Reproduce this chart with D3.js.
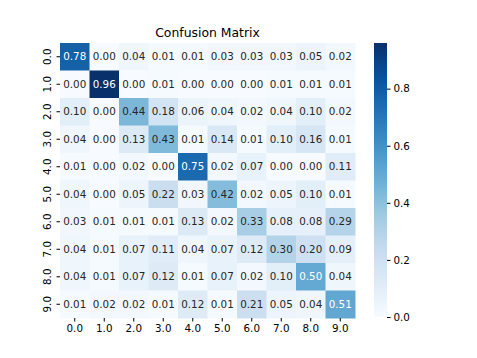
<!DOCTYPE html>
<meta charset="utf-8">
<body>
<script src="https://cdn.jsdelivr.net/npm/d3@7"></script>
<style>
    html, body {
        margin: 0;
        background: #fff;
    }
    text {
        font-family: "DejaVu Sans", sans-serif;
        fill: #000;
    }
</style>
<script>
var labels = ["0.0", "1.0", "2.0", "3.0", "4.0", "5.0", "6.0", "7.0", "8.0", "9.0"];

var matrix = [
    [0.78, 0.00, 0.04, 0.01, 0.01, 0.03, 0.03, 0.03, 0.05, 0.02],
    [0.00, 0.96, 0.00, 0.01, 0.00, 0.00, 0.00, 0.01, 0.01, 0.01],
    [0.10, 0.00, 0.44, 0.18, 0.06, 0.04, 0.02, 0.04, 0.10, 0.02],
    [0.04, 0.00, 0.13, 0.43, 0.01, 0.14, 0.01, 0.10, 0.16, 0.01],
    [0.01, 0.00, 0.02, 0.00, 0.75, 0.02, 0.07, 0.00, 0.00, 0.11],
    [0.04, 0.00, 0.05, 0.22, 0.03, 0.42, 0.02, 0.05, 0.10, 0.01],
    [0.03, 0.01, 0.01, 0.01, 0.13, 0.02, 0.33, 0.08, 0.08, 0.29],
    [0.04, 0.01, 0.07, 0.11, 0.04, 0.07, 0.12, 0.30, 0.20, 0.09],
    [0.04, 0.01, 0.07, 0.12, 0.01, 0.07, 0.02, 0.10, 0.50, 0.04],
    [0.01, 0.02, 0.02, 0.01, 0.12, 0.01, 0.21, 0.05, 0.04, 0.51]
];

var cbarTicks = [0, 0.2, 0.4, 0.6, 0.8];

var width = 477,
    height = 358,
    x0 = 60, x1 = 355, y0 = 43, y1 = 318,
    fs = 10.35;

// matplotlib "Blues" is a linear ramp over these 9 colours
var blues = ["#f7fbff", "#deebf7", "#c6dbef", "#9ecae1", "#6baed6", "#4292c6", "#2171b5", "#08519c", "#08306b"];
var vmax = d3.max(matrix, function(r) { return d3.max(r); });
var ramp = d3.scaleLinear()
    .domain(d3.range(9).map(function(i) { return i / 8; }))
    .range(blues)
    .interpolate(d3.interpolateRgb);
var color = function(v) { return ramp(Math.max(0, Math.min(1, v / vmax))); };

function lum(c) {
    var rgb = d3.rgb(c);
    var f = function(x) { x /= 255; return x <= 0.03928 ? x / 12.92 : Math.pow((x + 0.055) / 1.055, 2.4); };
    return 0.2126 * f(rgb.r) + 0.7152 * f(rgb.g) + 0.0722 * f(rgb.b);
}

var svg = d3.select("body").append("svg")
    .attr("width", width)
    .attr("height", height);

var x = d3.scaleBand().domain(d3.range(10)).range([x0, x1]);
var y = d3.scaleBand().domain(d3.range(10)).range([y0, y1]);

var cells = [];
matrix.forEach(function(row, i) {
    row.forEach(function(v, j) { cells.push({r: i, c: j, v: v}); });
});

svg.append("g").selectAll("rect")
    .data(cells)
    .enter().append("rect")
    .attr("x", function(d) { return x(d.c); })
    .attr("y", function(d) { return y(d.r); })
    .attr("width", x.bandwidth() + 0.5)
    .attr("height", y.bandwidth() + 0.5)
    .attr("fill", function(d) { return color(d.v); });

svg.append("g").selectAll("text")
    .data(cells)
    .enter().append("text")
    .attr("x", function(d) { return x(d.c) + x.bandwidth() / 2; })
    .attr("y", function(d) { return y(d.r) + y.bandwidth() / 2; })
    .attr("text-anchor", "middle")
    .attr("dy", "0.36em")
    .style("font-size", fs + "px")
    .style("fill", function(d) { return lum(color(d.v)) < 0.408 ? "#fff" : "#262626"; })
    .text(function(d) { return d.v.toFixed(2); });

// x axis
var xa = svg.append("g").attr("transform", "translate(0," + y1 + ")")
    .call(d3.axisBottom(x).tickSize(3.5).tickPadding(3).tickFormat(function(i) { return labels[i]; }));
xa.select(".domain").remove();
xa.selectAll("text").style("font-size", fs + "px").attr("fill", "#000");

// y axis
var ya = svg.append("g").attr("transform", "translate(" + x0 + ",0)")
    .call(d3.axisLeft(y).tickSize(3.5).tickPadding(3).tickFormat(function(i) { return labels[i]; }));
ya.select(".domain").remove();
ya.selectAll("text")
    .style("font-size", fs + "px")
    .attr("fill", "#000")
    .attr("text-anchor", "middle")
    .attr("x", 0)
    .attr("dy", 0)
    .attr("transform", "translate(-13,0) rotate(-90)")
    .attr("dominant-baseline", "central");

// title
svg.append("text")
    .attr("x", (x0 + x1) / 2)
    .attr("y", 37)
    .attr("text-anchor", "middle")
    .style("font-size", "12.4px")
    .text("Confusion Matrix");

// colorbar
var cbX = 374, cbW = 13, cbTop = 43, cbBot = 317;
var cy = d3.scaleLinear().domain([0, vmax]).range([cbBot, cbTop]);
var defs = svg.append("defs");
var grad = defs.append("linearGradient")
    .attr("id", "cbar")
    .attr("x1", 0).attr("y1", 1).attr("x2", 0).attr("y2", 0);
grad.selectAll("stop")
    .data(blues)
    .enter().append("stop")
    .attr("offset", function(d, i) { return i / 8; })
    .attr("stop-color", function(d) { return d; });
svg.append("rect")
    .attr("x", cbX).attr("y", cbTop)
    .attr("width", cbW).attr("height", cbBot - cbTop)
    .attr("fill", "url(#cbar)");

var ca = svg.append("g").attr("transform", "translate(" + (cbX + cbW) + ",0)")
    .call(d3.axisRight(cy).tickValues(cbarTicks).tickSize(3.5).tickPadding(3).tickFormat(d3.format(".1f")));
ca.select(".domain").remove();
ca.selectAll("text").style("font-size", fs + "px").attr("fill", "#000");
</script>
